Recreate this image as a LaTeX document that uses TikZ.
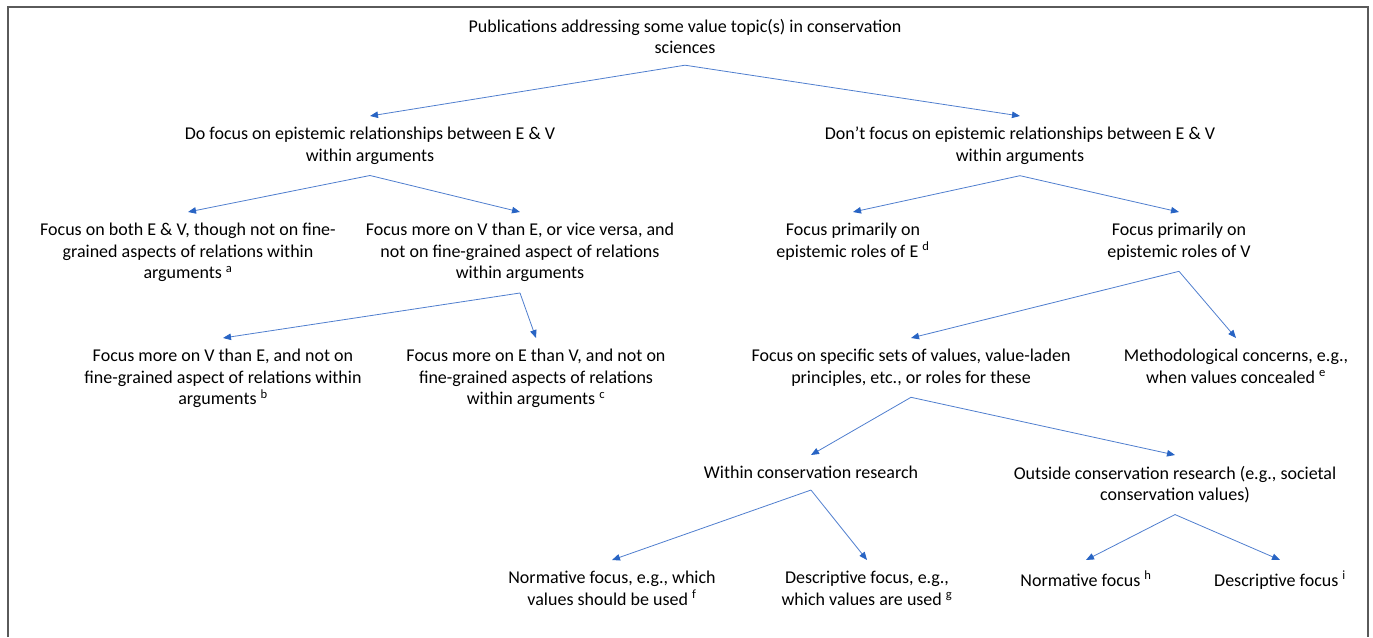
\documentclass[tikz,border=0pt]{standalone}
\usepackage{fontspec}
\setmainfont{Carlito}
\usetikzlibrary{arrows.meta}
\definecolor{linkblue}{RGB}{79,126,206}
\definecolor{tipblue}{RGB}{40,100,196}
\definecolor{framegray}{RGB}{90,90,90}

\begin{document}
\begin{tikzpicture}[x=1pt, y=-1pt,
		box/.style={anchor=north, align=center, inner sep=11pt, font=\fontsize{18}{21.5}\selectfont},
		link/.style={draw=linkblue, line width=0.8pt, -{Triangle[length=8pt,width=6.5pt,color=tipblue]}}]
				\useasboundingbox (0, 0) rectangle (1373, 637);
				\draw[framegray, line width=1.3pt] (8, 637) -- (8, 7) -- (1368, 7) -- (1368, 637);
				
				\node[box] (pubs) at (685, 8) {Publications addressing some value topic(s) in conservation\\sciences};
				
				\node[box] (dofocus) at (370, 116) {Do focus on epistemic relationships between E \& V\\within arguments};
				\node[box] (dontfocus) at (1020, 116) {Don’t focus on epistemic relationships between E \& V\\within arguments};
				
				\node[box] (both) at (188, 212) {Focus on both E \& V, though not on fine-\\grained aspects of relations within\\arguments \textsuperscript{a}};
				\node[box] (moreone) at (520, 212) {Focus more on V than E, or vice versa, and\\not on fine-grained aspect of relations\\within arguments};
				\node[box] (rolese) at (853, 212) {Focus primarily on\\epistemic roles of E \textsuperscript{d}};
				\node[box] (rolesv) at (1179, 212) {Focus primarily on\\epistemic roles of V};
				
				\node[box] (morev) at (223, 338) {Focus more on V than E, and not on\\fine-grained aspect of relations within\\arguments \textsuperscript{b}};
				\node[box] (moree) at (536, 338) {Focus more on E than V, and not on\\fine-grained aspects of relations\\within arguments \textsuperscript{c}};
				\node[box] (specific) at (911, 338) {Focus on specific sets of values, value-laden\\principles, etc., or roles for these};
				\node[box] (method) at (1236, 338) {Methodological concerns, e.g.,\\when values concealed \textsuperscript{e}};
				
				\node[box] (within) at (811, 455) {Within conservation research};
				\node[box] (outside) at (1175, 455) {Outside conservation research (e.g., societal\\conservation values)};
				
				\node[box] (normwithin) at (612, 560) {Normative focus, e.g., which\\values should be used \textsuperscript{f}};
				\node[box] (descwithin) at (867, 560) {Descriptive focus, e.g.,\\which values are used \textsuperscript{g}};
				\node[box] (normout) at (1086, 560) {Normative focus \textsuperscript{h}};
				\node[box] (descout) at (1280, 560) {Descriptive focus \textsuperscript{i}};
				
				\draw[link] (pubs.south) -- (dofocus.north);
				\draw[link] (pubs.south) -- (dontfocus.north);
				\draw[link] (dofocus.south) -- (both.north);
				\draw[link] (dofocus.south) -- (moreone.north);
				\draw[link] (dontfocus.south) -- (rolese.north);
				\draw[link] (dontfocus.south) -- (rolesv.north);
				\draw[link] (moreone.south) -- (morev.north);
				\draw[link] (moreone.south) -- (moree.north);
				\draw[link] (rolesv.south) -- (specific.north);
				\draw[link] (rolesv.south) -- (method.north);
				\draw[link] (specific.south) -- (within.north);
				\draw[link] (specific.south) -- (outside.north);
				\draw[link] (within.south) -- (normwithin.north);
				\draw[link] (within.south) -- (descwithin.north);
				\draw[link] (outside.south) -- (normout.north);
				\draw[link] (outside.south) -- (descout.north);
			\end{tikzpicture}
\end{document}
